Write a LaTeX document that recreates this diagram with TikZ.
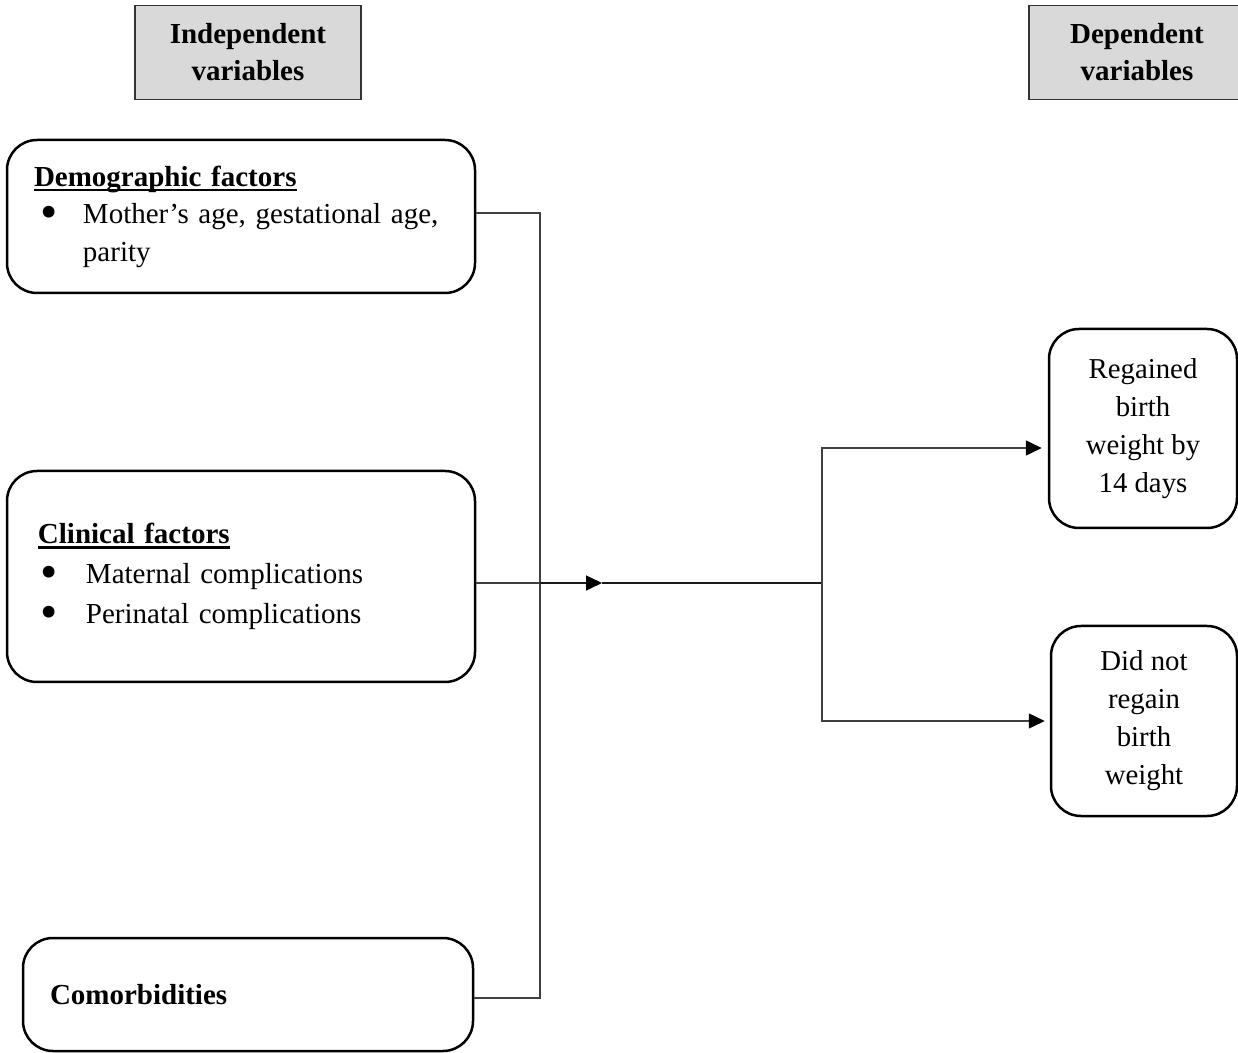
\documentclass[tikz,border=0pt]{standalone}
\usepackage{fontspec}
\setmainfont{Liberation Serif}
\usepackage{graphicx}
\usetikzlibrary{arrows.meta}
\newcommand{\bulletline}[3]{\hspace*{#1}\makebox[#2][l]{\smash{\raisebox{-0.17em}{\scalebox{1.7}{\textbullet}}}}#3}
\newcommand{\headline}[1]{\setbox0\hbox{\bfseries #1}\rlap{\rule[-2.5pt]{\wd0}{1.1pt}}\box0}

\begin{document}
\begin{tikzpicture}[x=0.5pt,y=-0.5pt]
			\tikzstyle{head} = [rectangle, draw=black!80, line width=0.75pt, fill=black!15, minimum height=47pt, align=center, font=\fontsize{14.5}{18.5}\selectfont\bfseries]
			\tikzstyle{factor} = [rectangle, rounded corners=15pt, draw=black, line width=1.25pt, align=left, font=\fontsize{14.5}{18.75}\selectfont]
			\tikzstyle{outcome} = [rectangle, rounded corners=15pt, draw=black, line width=1.25pt, align=center, font=\fontsize{14.4}{19}\selectfont]
			\tikzstyle{conn} = [draw=black!75, line width=0.75pt]
			\tikzstyle{arr} = [conn, -{Triangle[length=8pt,width=7.5pt,color=black]}]
			
			\useasboundingbox (0,0) rectangle (1238,1053);
			
			\node (indep) [head, minimum width=113pt] at (248,52.5) {Independent\\variables};
			\node (dep) [head, minimum width=108pt] at (1137,52.5) {Dependent\\variables};
			
			\node (demo) [factor, text width=207pt, inner xsep=13.5pt, minimum height=76.5pt] at (241,216.5) {\headline{Demographic factors}\\\bulletline{3pt}{21.5pt}{Mother’s age, gestational age,}\\\hspace*{24.5pt}parity};
			\node (clin) [factor, text width=203pt, inner xsep=15.5pt, minimum height=105.5pt, font=\fontsize{14.5}{20}\selectfont] at (241,576.5) {\headline{Clinical factors}\\\bulletline{1.5pt}{22.5pt}{Maternal complications}\\\bulletline{1.5pt}{22.5pt}{Perinatal complications}};
			\node (como) [factor, text width=198pt, inner xsep=13.5pt, minimum height=56.5pt] at (248,994.5) {\textbf{Comorbidities}};
			
			\node (regain) [outcome, minimum width=94pt, minimum height=99.5pt] at (1143,428.5) {Regained\\birth\\weight by\\14 days};
			\node (noregain) [outcome, minimum width=93pt, minimum height=95pt] at (1144,721) {Did not\\regain\\birth\\weight};
			
			\coordinate (bustop) at (540,213);
			\coordinate (busbot) at (540,998);
			\coordinate (tip) at (602,583);
			\coordinate (split) at (822,583);
			
			\draw[conn] (demo.east |- bustop) -- (bustop) -- (busbot) -- (como.east |- busbot);
			\draw[conn] (clin.east |- tip) -- (bustop |- tip);
			\draw[arr, draw=black!90] (bustop |- tip) -- (tip);
			\draw[conn, draw=black!90] (tip) -- (split);
			
			\draw[arr, shorten >=3pt] (split) |- ([yshift=-9.75pt]regain.west);
			\draw[arr, shorten >=2.5pt] (split) |- (noregain.west);
			
	\end{tikzpicture}
\end{document}
